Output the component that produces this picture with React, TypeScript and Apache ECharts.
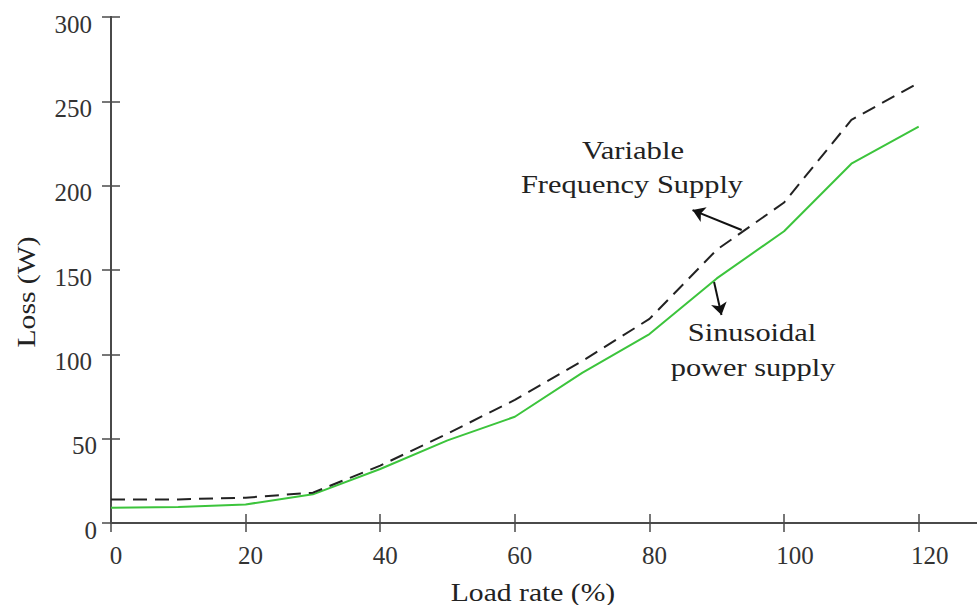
import React, { useEffect, useRef } from "react";
import * as echarts from "echarts";

const loadRate = [0, 10, 20, 30, 40, 50, 60, 70, 80, 90, 100, 110, 120];
const variableFreq = [14, 14, 15, 18, 34, 53, 73, 96, 121, 162, 190, 239, 261];
const sinusoidal = [9, 9.5, 11, 17, 32, 49, 63, 89, 112, 145, 173, 213, 235];
const xTicks = [0, 20, 40, 60, 80, 100, 120];
const yTicks = [0, 50, 100, 150, 200, 250, 300];
const arrowVF = [[93.7, 173.7], [86.4, 185.5]];
const arrowSin = [[89.6, 142.9], [90.7, 123.3]];

const FONT = "Liberation Serif";
const AXIS_COLOR = "#4a4a4a";
const LABEL_COLOR = "#333";

export default function App() {
  const ref = useRef<HTMLDivElement>(null);
  useEffect(() => {
    document.body.style.margin = "0";
    document.body.style.overflow = "hidden";
    const chart = echarts.init(ref.current!, null, { renderer: "svg" });
    const axisLine = { show: true, lineStyle: { color: AXIS_COLOR, width: 2 } };
    const tick = { show: true, inside: true, length: 9, lineStyle: { color: AXIS_COLOR, width: 1.5 } };
    const base = { fontFamily: FONT, fontSize: 25, color: LABEL_COLOR };
    const xLabel = {
      show: true,
      ...base,
      margin: 20,
      formatter: (v: number) =>
        xTicks.includes(v) ? (v >= 100 ? `{w|${v}}` : `{n|${v}}`) : "",
      rich: {
        n: { ...base, padding: [0, 0, 0, 10] },
        w: { ...base, padding: [0, 0, 0, 22] },
      },
    };
    const yLabel = {
      show: true,
      ...base,
      margin: 14,
      formatter: (v: number) =>
        yTicks.includes(v) ? (v >= 100 ? `{w|${v}}` : `{n|${v}}`) : "",
      rich: {
        n: { ...base, padding: [14, 0, 0, 0] },
        w: { ...base, padding: [14, 5, 0, 0] },
      },
    };
    const txt = (text: string, x: number, y: number, sx: number, extra: any = {}) => ({
      type: "text",
      x,
      y,
      scaleX: sx,
      ...extra,
      style: {
        text,
        fontFamily: FONT,
        fontSize: 26,
        fill: "#222",
        textAlign: "center",
        textVerticalAlign: "middle",
      },
    });
    chart.setOption({
      animation: false,
      grid: { left: 111, top: 17, width: 875, height: 506, containLabel: false },
      xAxis: [
        {
          type: "value",
          min: 0,
          max: 130,
          interval: 20,
          position: "bottom",
          axisLine,
          axisTick: tick,
          axisLabel: xLabel,
          splitLine: { show: false },
        },
        {
          type: "value",
          min: 0,
          max: 130,
          interval: 20,
          position: "top",
          axisLine,
          axisTick: tick,
          axisLabel: { show: false },
          splitLine: { show: false },
        },
      ],
      yAxis: [
        {
          type: "value",
          min: 0,
          max: 300,
          interval: 50,
          position: "left",
          axisLine,
          axisTick: tick,
          axisLabel: yLabel,
          splitLine: { show: false },
        },
        {
          type: "value",
          min: 0,
          max: 300,
          interval: 50,
          position: "right",
          axisLine,
          axisTick: tick,
          axisLabel: { show: false },
          splitLine: { show: false },
        },
      ],
      series: [
        {
          name: "Variable Frequency Supply",
          type: "line",
          data: loadRate.map((x, i) => [x, variableFreq[i]]),
          showSymbol: false,
          lineStyle: { color: "#222", width: 2, type: [14, 8] },
          z: 3,
        },
        {
          name: "Sinusoidal power supply",
          type: "line",
          data: loadRate.map((x, i) => [x, sinusoidal[i]]),
          showSymbol: false,
          lineStyle: { color: "#3cc43c", width: 2 },
          z: 2,
        },
        {
          type: "lines",
          coordinateSystem: "cartesian2d",
          symbol: ["none", "arrow"],
          symbolSize: 12,
          lineStyle: { color: "#111", width: 2, opacity: 1 },
          data: [{ coords: arrowVF }, { coords: arrowSin }],
          z: 4,
        },
      ],
      graphic: [
        txt("Variable", 633, 150, 1.18),
        txt("Frequency Supply", 632, 184, 1.17),
        txt("Sinusoidal", 752, 332, 1.17),
        txt("power supply", 753, 367, 1.17),
        txt("Load rate (%)", 533, 592, 1.14),
        txt("Loss (W)", 26, 292, 1.14, { rotation: Math.PI / 2 }),
      ],
    });
    return () => chart.dispose();
  }, []);
  return <div ref={ref} style={{ width: 1000, height: 605 }} />;
}
